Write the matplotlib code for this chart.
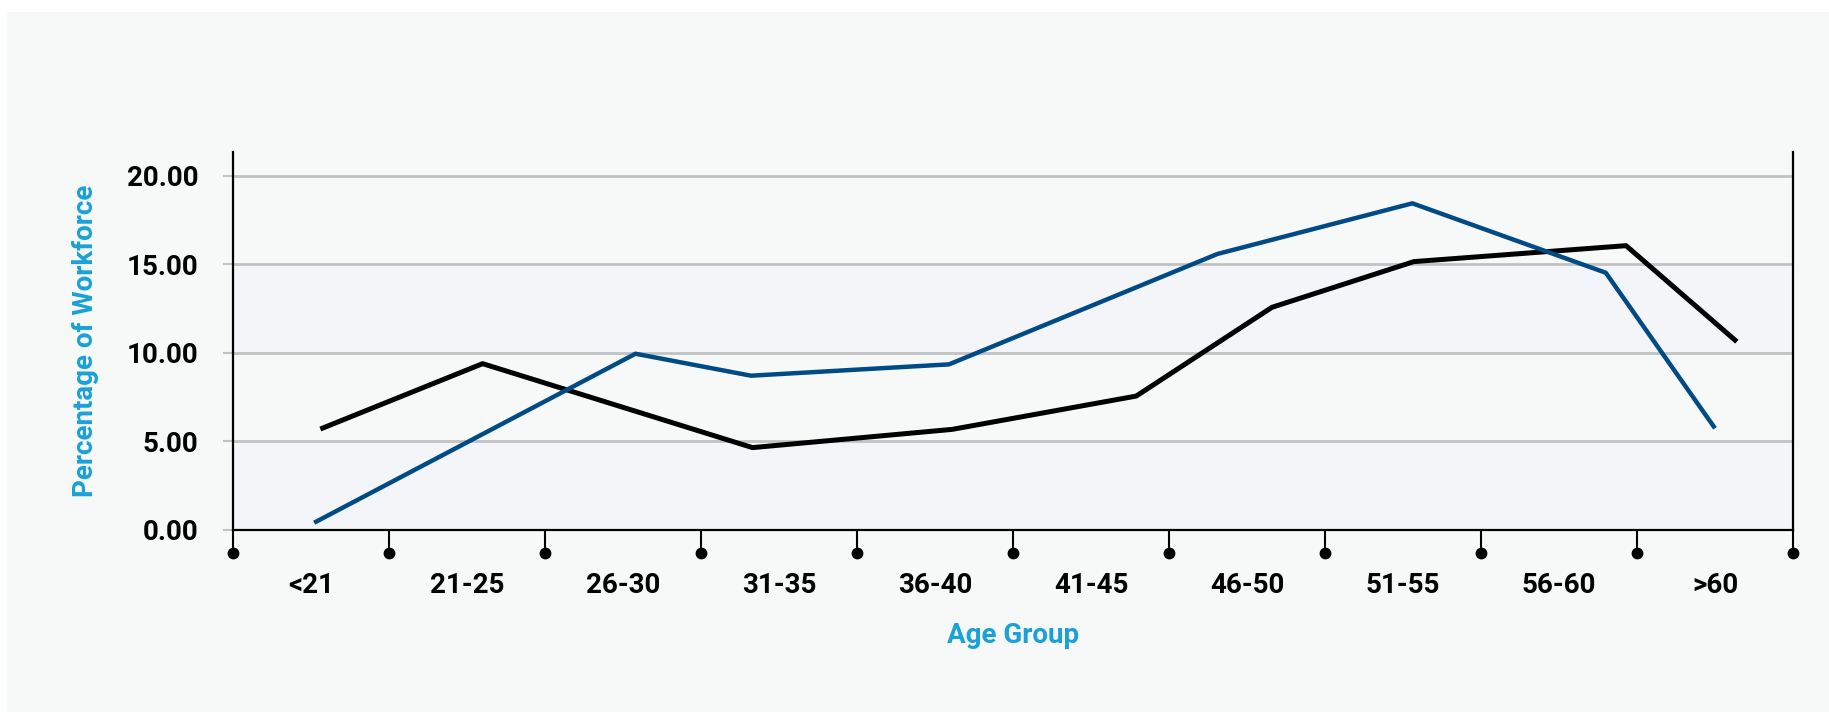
import matplotlib
matplotlib.use("Agg")
import matplotlib.pyplot as plt
from matplotlib.patches import Rectangle

# --- DATA ---
age_groups = ["<21", "21-25", "26-30", "31-35", "36-40", "41-45",
              "46-50", "51-55", "56-60", ">60"]

# x positions are in category-slot units (0 = left axis, 10 = right axis)
blue_x = [0.52, 2.58, 3.32, 4.59, 6.31, 7.56, 8.80, 9.50]
blue_y = [0.41, 9.95, 8.71, 9.35, 15.58, 18.44, 14.52, 5.74]

black_x = [0.56, 1.60, 3.33, 4.61, 5.79, 6.66, 7.57, 8.93, 9.64]
black_y = [5.70, 9.39, 4.65, 5.68, 7.56, 12.57, 15.15, 16.05, 10.63]

y_ticks = [0, 5, 10, 15, 20]

# --- STYLE ---
plt.rcParams['font.family'] = ['Roboto', 'DejaVu Sans']
plt.rcParams['font.weight'] = 'bold'

panel_bg = '#f7f9f9'
band_bg = '#f3f5f8'
grid_col = '#c0c2c4'
label_blue = '#1ba1d7'
line_blue = '#004b85'

fig = plt.figure(figsize=(18.29, 7.12), dpi=100, facecolor='white')
# light panel behind everything
fig.patches.append(Rectangle((7 / 1829, 0), 1 - 7 / 1829, 1 - 12 / 712,
                             transform=fig.transFigure, facecolor=panel_bg,
                             edgecolor='none', zorder=-10))

ax = fig.add_axes([233 / 1829, 1 - 530 / 712, (1793 - 233) / 1829, (530 - 152.3) / 712])
ax.set_facecolor('none')
ax.set_xlim(0, len(age_groups))
ax.set_ylim(0, 21.32)

# alternating bands (0-5 and 10-15 are a touch darker)
for lo in [0, 10]:
    ax.axhspan(lo, lo + 5, color=band_bg, zorder=0, lw=0)

# gridlines
for y in y_ticks[1:]:
    ax.axhline(y, color=grid_col, lw=2, zorder=1)

ax.plot(black_x, black_y, color='black', lw=3.6, zorder=3, solid_capstyle='butt')
ax.plot(blue_x, blue_y, color=line_blue, lw=3.2, zorder=4, solid_capstyle='butt')

# spines
ax.spines['top'].set_visible(False)
for s in ['left', 'right', 'bottom']:
    ax.spines[s].set_linewidth(1.6)
    ax.spines[s].set_color('black')

# y ticks
ax.set_yticks(y_ticks)
ax.set_yticklabels([f"{v:.2f}" for v in y_ticks])
ax.tick_params(axis='y', length=7, width=1.5, color=grid_col, pad=18,
               labelsize=20, right=False)

# x ticks: boundaries with dots, labels centred in slots
n = len(age_groups)
ax.set_xticks(range(n + 1))
ax.set_xticklabels([])
ax.set_xticks([i + 0.5 for i in range(n)], minor=True)
ax.set_xticklabels(age_groups, minor=True)
ax.tick_params(axis='x', which='major', length=16.5, width=1.5, color='black')
ax.tick_params(axis='x', which='minor', length=0, pad=30, labelsize=20)
ax.plot(range(n + 1), [-0.061] * (n + 1), 'o', color='black', ms=7.5,
        transform=ax.get_xaxis_transform(), clip_on=False, zorder=5)

ax.set_ylabel("Percentage of Workforce", color=label_blue, fontsize=20,
              fontweight='bold', labelpad=20)
ax.set_xlabel("Age Group", color=label_blue, fontsize=20, fontweight='bold',
              labelpad=17)

fig.savefig("out.png", dpi=100, facecolor='white')
